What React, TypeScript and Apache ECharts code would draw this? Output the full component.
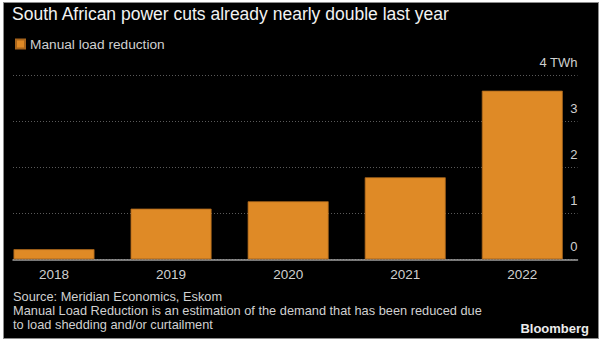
import React, { useEffect, useRef } from "react";
import * as echarts from "echarts";

const years = ["2018", "2019", "2020", "2021", "2022"];
const manualLoadReduction = [0.22, 1.1, 1.26, 1.78, 3.66];
const yTicks = [0, 1, 2, 3, 4];
const unitLabel = "TWh";
const titleText = "South African power cuts already nearly double last year";
const seriesName = "Manual load reduction";
const footnoteLines = [
  "Source: Meridian Economics, Eskom",
  "Manual Load Reduction is an estimation of the demand that has been reduced due",
  "to load shedding and/or curtailment",
];
const brand = "Bloomberg";

const FONT = "'Liberation Sans', Arial, sans-serif";

export default function App() {
  const ref = useRef<HTMLDivElement>(null);
  useEffect(() => {
    if (!ref.current) return;
    const chart = echarts.init(ref.current, undefined, { renderer: "svg" });
    const yMax = yTicks[yTicks.length - 1];
    chart.setOption({
      animation: false,
      backgroundColor: "transparent",
      textStyle: { fontFamily: FONT },
      title: [
        {
          text: titleText,
          left: 12,
          top: 5,
          padding: 0,
          textStyle: { color: "#f2f2f2", fontSize: 17.5, fontWeight: "normal", fontFamily: FONT },
        },
        {
          text: footnoteLines.join("\n"),
          left: 13,
          top: 289.5,
          padding: 0,
          textStyle: { color: "#d0d0d0", fontSize: 12.8, lineHeight: 14, fontWeight: "normal", fontFamily: FONT },
        },
        {
          text: brand,
          right: 13,
          top: 322,
          padding: 0,
          textStyle: { color: "#ececec", fontSize: 13, fontWeight: "bold", fontFamily: FONT },
        },
      ],
      legend: {
        data: [seriesName],
        left: 15,
        top: 37,
        padding: 0,
        icon: "rect",
        itemWidth: 9,
        itemHeight: 9,
        textStyle: { color: "#d0d0d0", fontSize: 13.7, fontFamily: FONT },
      },
      grid: [
        { left: 13, right: 24.5, top: 75, bottom: 84.7 },
        { left: 54, right: 79.7, top: 75, bottom: 84.7 },
      ],
      xAxis: [
        {
          gridIndex: 0,
          type: "category",
          data: years,
          axisLine: { show: true, lineStyle: { color: "#a0a0a0", width: 1.5 } },
          axisTick: { show: false },
          axisLabel: { show: false },
        },
        {
          gridIndex: 1,
          type: "category",
          data: years,
          boundaryGap: false,
          axisLine: { show: false },
          axisTick: { show: false },
          axisLabel: { color: "#d0d0d0", fontSize: 13.5, margin: 8, fontFamily: FONT },
        },
      ],
      yAxis: [
        {
          gridIndex: 0,
          type: "value",
          min: 0,
          max: yMax,
          interval: 1,
          position: "right",
          axisLine: { show: false },
          axisTick: { show: false },
          splitLine: { show: true, lineStyle: { color: "#5a5a5a", type: [1, 2], width: 1 } },
          axisLabel: {
            inside: true,
            margin: 0,
            align: "right",
            verticalAlign: "bottom",
            padding: [0, 0, 6, 0],
            color: "#d0d0d0",
            fontSize: 13,
            fontFamily: FONT,
            formatter: (v: number) => (v === yMax ? `${v} ${unitLabel}` : `${v}`),
          },
        },
        { gridIndex: 1, type: "value", min: 0, max: yMax, show: false },
      ],
      series: [
        {
          name: seriesName,
          type: "bar",
          xAxisIndex: 1,
          yAxisIndex: 1,
          data: manualLoadReduction,
          barWidth: 81,
          clip: false,
          itemStyle: { color: "#df8a26", borderColor: "#a8651c", borderWidth: 0.8 },
        },
      ],
    });
    return () => chart.dispose();
  }, []);
  return (
    <div style={{ position: "fixed", left: 0, top: 0, width: 602, height: 344, background: "#fff" }}>
      <div
        style={{
          position: "absolute",
          left: 3,
          top: 2,
          width: 596,
          height: 337,
          boxSizing: "border-box",
          background: "#000",
          border: "1px solid #8c8c8c",
        }}
      />
      <div ref={ref} style={{ position: "absolute", left: 0, top: 0, width: 602, height: 344 }} />
    </div>
  );
}
